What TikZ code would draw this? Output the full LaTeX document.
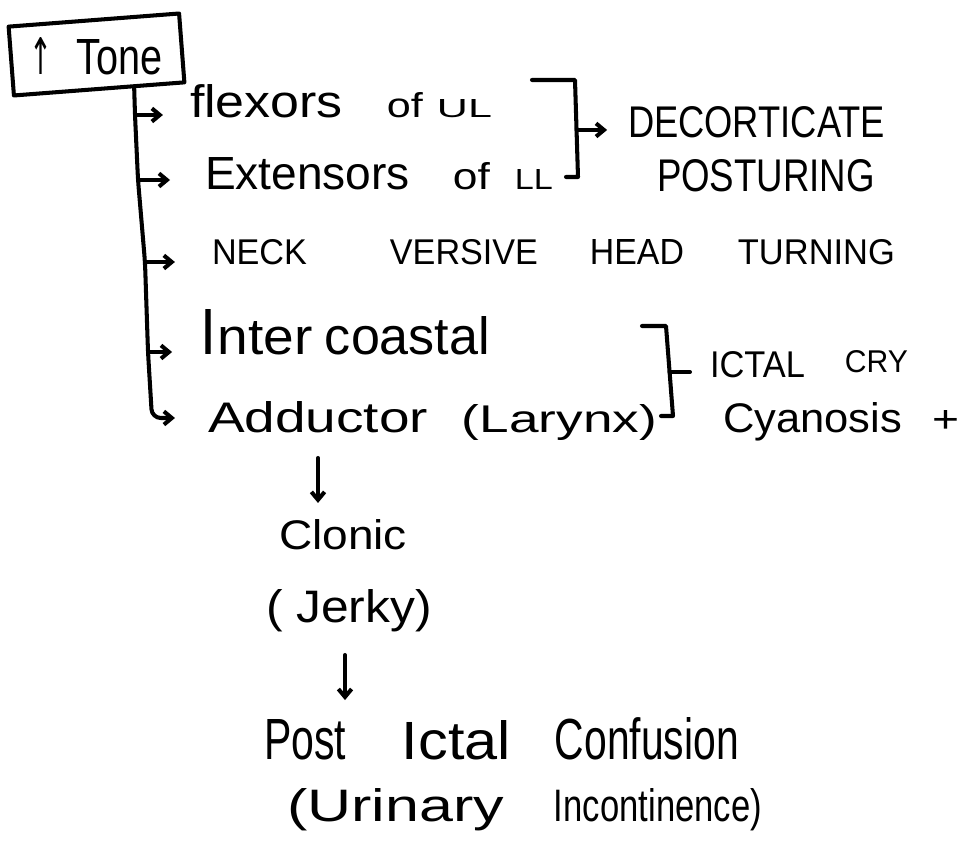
\documentclass[tikz,border=0pt]{standalone}
\usepackage{fontspec}
\setmainfont{Liberation Sans}
\newfontfamily\symfont{DejaVu Sans}
\usepackage{graphicx}
\usetikzlibrary{arrows.meta,calc}

% one drawing unit (0.02cm) as a TeX length
\newlength\pxu
\setlength\pxu{0.569055pt}
% a word stretched to a given width and height (in drawing units)
\newcommand\hw[3]{\resizebox{#1\pxu}{#2\pxu}{#3}}
% a gap between words (in drawing units)
\newcommand\hg[1]{\hspace*{#1\pxu}}

\begin{document}
\begin{tikzpicture}[x=0.02cm, y=-0.02cm,
    line width=2.3pt, line cap=round, line join=round,
    txt/.style={anchor=base west, inner sep=0pt, outer sep=0pt},
    arr/.style={-{Straight Barb[length=4.5pt,width=7.5pt]}}]
\useasboundingbox[fill=white] (0,0) rectangle (961,854);

% heading box
\node[draw, rotate=4.4, minimum width=97.3pt, minimum height=39.3pt, inner sep=0pt] (tonebox) at (96.5,54.5) {};
\node[txt] (tone) at (30,75) {\hw{23}{37}{\symfont ↑}\hg{24}\hw{86}{35}{Tone}};

% muscle groups
\node[txt] (flex) at (190,118) {\hw{153}{33}{flexors}\hg{44}\hw{36}{25}{of}\hg{14}\hw{55}{18}{UL}};
\node[txt] (ext) at (205,190) {\hw{205}{32}{Extensors}\hg{43}\hw{37}{27}{of}\hg{25}\hw{38}{20}{LL}};
\node[txt] (neck) at (212,265) {\hw{95}{25}{NECK}\hg{83}\hw{148}{25}{VERSIVE}\hg{52}\hw{94}{25}{HEAD}\hg{54}\hw{157}{25}{TURNING}};
\node[txt] (inter) at (200,355) {\hw{16}{45}{I}\hg{2}\hw{95}{33}{nter}\hg{12}\hw{165}{38}{coastal}};
\node[txt] (add) at (208,433) {\hw{220}{31}{Adductor}\hg{34}\hw{195}{28}{(Larynx)}};

% consequences
\node[txt] (deco) at (628,138) {\hw{257}{31}{DECORTICATE}};
\node[txt] (postur) at (657,192) {\hw{218}{32}{POSTURING}};
\node[txt] (ictal) at (710,378) {\hw{95}{26}{ICTAL}\hg{40}\raisebox{5\pxu}{\hw{63}{22}{CRY}}};
\node[txt] (cyan) at (723,433) {\hw{179}{30}{Cyanosis}\hg{31}\hw{27}{22}{+}};

% sequence below
\node[txt] (clonic) at (279,550) {\hw{128}{30}{Clonic}};
\node[txt] (jerky) at (266,623) {\hw{166}{33}{( Jerky)}};
\node[txt] (postic) at (264,760) {\hw{82}{40}{Post}\hg{56}\hw{109}{39}{Ictal}\hg{44}\hw{184}{42}{Confusion}};
\node[txt] (urin) at (287,822) {\hw{217}{33}{(Urinary}\hg{50}\hw{208}{33}{Incontinence)}};

% trunk and branches
\coordinate (t0) at ($(tonebox.south west)!0.70!(tonebox.south east)$);
\coordinate (b1) at (135,115);
\coordinate (b2) at (138,180);
\coordinate (b3) at (145,262);
\coordinate (b4) at (148,352);
\coordinate (b5) at (152,418);
\draw[arr, rounded corners=5pt, shorten >=18.8pt] (t0) -- (b1) -- (b2) -- (b3) -- (b4) -- (b5) -- (b5 -| add.west);
\draw[arr, shorten >=15.4pt] (b1) -- (b1 -| flex.west);
\draw[arr, shorten >=19.9pt] (b2) -- (b2 -| ext.west);
\draw[arr, shorten >=21.1pt] (b3) -- (b3 -| neck.west);
\draw[arr, shorten >=15.9pt] (b4) -- (b4 -| inter.west);

% brackets
\draw (532,80) -- (575,80) -- (578,177) -- (566,177);
\coordinate (br1) at (576.5,130);
\draw[arr, shorten >=11.9pt] (br1) -- (br1 -| deco.west);
\draw (642,326) -- (666,326) -- (673,416) -- (661,416);
\coordinate (br2) at (669.5,372);
\draw[shorten >=11.4pt] (br2) -- (br2 -| ictal.west);

% downward steps
\coordinate (d1) at (318,458);
\draw[arr, shorten >=9.7pt] (d1) -- (d1 |- clonic.north);
\coordinate (d2) at (345,655);
\draw[arr, shorten >=10.2pt] (d2) -- (d2 |- postic.north);
\end{tikzpicture}
\end{document}
